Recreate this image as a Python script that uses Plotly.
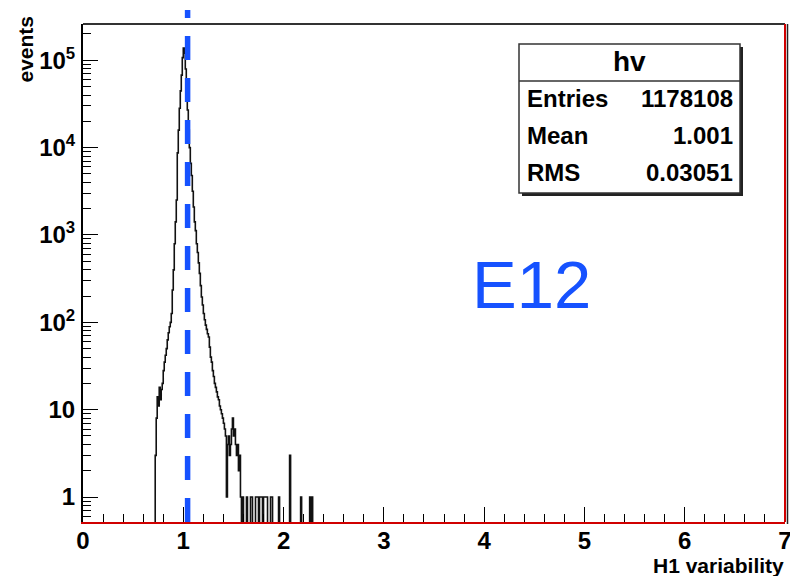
import numpy as np
import plotly.graph_objects as go

# ---------------- data ----------------
bin_width = 0.01
first_edge = 0.70          # left edge of the first listed bin
counts = [
    0, 0, 3, 8, 14, 11, 18, 13, 17, 20,                     # 0.70 - 0.79
    28, 35, 42, 50, 63, 76, 89, 100, 126, 234,              # 0.80 - 0.89
    398, 794, 1413, 2512, 8710, 15849, 28184, 44668, 67608, 107152,   # 0.90 - 0.99
    138038, 120226, 79433, 44668, 26915, 15849, 10000, 6607, 4786, 3162,  # 1.00 - 1.09
    2089, 1413, 1122, 794, 631, 479, 363, 263, 195, 158,    # 1.10 - 1.19
    126, 107, 93, 83, 74, 68, 52, 40, 35, 28,               # 1.20 - 1.29
    24, 20, 18, 16, 14, 13, 11, 10, 9, 8,                   # 1.30 - 1.39
    7, 6, 5, 1, 4, 5, 3, 4, 6, 8,                           # 1.40 - 1.49
    5, 6, 4, 3, 4, 2, 3, 1, 0, 1,                           # 1.50 - 1.59
    0, 0, 0, 1, 0, 0, 0, 1, 1, 0,                           # 1.60 - 1.69
    0, 0, 1, 1, 1, 0, 1, 1, 1, 0,                           # 1.70 - 1.79
    1, 1, 1, 1, 0, 0, 0, 1, 1, 0,                           # 1.80 - 1.89
    0, 0, 0, 0, 0, 1, 0, 0, 0, 0,                           # 1.90 - 1.99
    0, 0, 0, 0, 0, 0, 3, 0, 0, 0,                           # 2.00 - 2.09
    0, 0, 0, 0, 0, 0, 0, 1, 0, 0,                           # 2.10 - 2.19
    0, 0, 0, 0, 0, 0, 1, 0, 1, 0, 0,                        # 2.20 - 2.30
]
hist_name = "hv"
stats_labels = ["Entries", "Mean", "RMS"]
stats_values = ["1178108", "1.001", "0.03051"]
marker_x = 1.043
marker_label = "E12"
x_title = "H1 variability"
y_title = "events"
x_range = [0, 7]
y_min, y_max = 0.518, 2.6e5
y_major = [1, 10, 100, 1e3, 1e4, 1e5]
y_major_text = ["1", "10", "10<sup>2</sup>", "10<sup>3</sup>", "10<sup>4</sup>", "10<sup>5</sup>"]

# ---------------- build step line ----------------
n = len(counts)
edges = first_edge + bin_width * np.arange(n + 1)
cnt = np.array(counts, dtype=float)
floor_val = 1e-3                     # empty bins fall below the frame (log axis)
yv = np.where(cnt > 0, cnt, floor_val)
xs = np.concatenate([[0.0], edges])
ys = np.concatenate([[floor_val], yv, [floor_val]])

# page body has an 8px margin: the figure starts at (8, 8) in the window
OFF = 8
W, H = 798 - OFF, 576 - OFF
L, R, T, B = 83 - OFF, 13, 24 - OFF, 54
PW, PH = W - L - R, H - T - B


def px(x):          # window pixel x -> paper x
    return (x - OFF - L) / PW


def py(y):          # window pixel y -> paper y
    return (OFF + H - B - y) / PH


FONT = "Liberation Sans, Arial, Helvetica, sans-serif"
BLUE = "#1652ff"

fig = go.Figure()
fig.add_trace(go.Scatter(
    x=xs, y=ys, mode="lines", line=dict(shape="hv", color="#111111", width=1.6),
    hoverinfo="skip", showlegend=False))

minor_y = []
for d in [0.1, 1, 10, 100, 1000, 10000, 100000]:
    for k in range(2, 10):
        v = k * d
        if y_min <= v <= y_max:
            minor_y.append(v)

fig.update_layout(
    template="none",
    width=W, height=H,
    margin=dict(l=L, r=R, t=T, b=B, autoexpand=False),
    paper_bgcolor="white", plot_bgcolor="white",
    font=dict(family=FONT, color="black"),
    xaxis=dict(
        range=x_range, showgrid=False, zeroline=False, automargin=False,
        showline=True, linecolor="#d00000", linewidth=2,
        ticks="inside", ticklen=15, tickwidth=1, tickcolor="black",
        dtick=1, tick0=0,
        tickfont=dict(family=FONT, size=24, weight="bold"),
        ticklabelstandoff=-4,
        minor=dict(ticks="inside", ticklen=8, dtick=0.2, tick0=0, tickcolor="black", showgrid=False),
    ),
    yaxis=dict(
        type="log", range=[np.log10(y_min), np.log10(y_max)],
        showgrid=False, zeroline=False, automargin=False,
        showline=True, linecolor="black", linewidth=2,
        ticks="inside", ticklen=15, tickwidth=1, tickcolor="black",
        tickmode="array", tickvals=y_major, ticktext=y_major_text,
        tickfont=dict(family=FONT, size=24, weight="bold"),
        ticklabelstandoff=1,
        minor=dict(ticks="inside", ticklen=8, tickmode="array", tickvals=minor_y,
                   tickcolor="black", showgrid=False),
    ),
)

shapes = []
# frame: top and right borders
shapes.append(dict(type="line", xref="paper", yref="paper", x0=0, x1=1, y0=1, y1=1,
                   line=dict(color="#333333", width=2)))
shapes.append(dict(type="line", xref="paper", yref="paper", x0=1 + 2.5 / PW, x1=1 + 2.5 / PW,
                   y0=-2 / PH, y1=1, line=dict(color="#222222", width=1.5)))
shapes.append(dict(type="line", xref="paper", yref="paper", x0=1, x1=1, y0=0, y1=1,
                   line=dict(color="#d00000", width=2)))
# dashed marker line
shapes.append(dict(type="line", xref="x", yref="paper", x0=marker_x, x1=marker_x,
                   y0=0, y1=py(10), layer="above",
                   line=dict(color=BLUE, width=5.5, dash="24px,18px")))
# stats box (shadow, box, header separator)
bx0, bx1, by0, by1 = 519, 740, 44, 193
shapes.append(dict(type="rect", xref="paper", yref="paper",
                   x0=px(bx0 + 3), x1=px(bx1 + 3), y0=py(by1 + 3), y1=py(by0 + 3),
                   line=dict(width=0), fillcolor="#222222"))
shapes.append(dict(type="rect", xref="paper", yref="paper",
                   x0=px(bx0), x1=px(bx1), y0=py(by1), y1=py(by0),
                   line=dict(color="#333333", width=1.5), fillcolor="white"))
shapes.append(dict(type="line", xref="paper", yref="paper",
                   x0=px(bx0), x1=px(bx1), y0=py(81), y1=py(81),
                   line=dict(color="#333333", width=1.5)))
fig.update_layout(shapes=shapes)

ann = []
ann.append(dict(text=hist_name, x=px((bx0 + bx1) / 2), y=py(62), xref="paper", yref="paper",
                showarrow=False, xanchor="center", yanchor="middle",
                font=dict(family=FONT, size=28, weight="bold")))
for lab, val, yy in zip(stats_labels, stats_values, [99, 135, 173]):
    ann.append(dict(text=lab, x=px(525), y=py(yy), xref="paper", yref="paper",
                    showarrow=False, xanchor="left", yanchor="middle",
                    font=dict(family=FONT, size=24, weight="bold")))
    ann.append(dict(text=val, x=px(735), y=py(yy), xref="paper", yref="paper",
                    showarrow=False, xanchor="right", yanchor="middle",
                    font=dict(family=FONT, size=24, weight="bold")))
ann.append(dict(text=marker_label, x=px(531), y=py(284), xref="paper", yref="paper",
                showarrow=False, xanchor="center", yanchor="middle",
                font=dict(family=FONT, size=67, color=BLUE)))
ann.append(dict(text=x_title, x=px(786), y=py(565), xref="paper", yref="paper",
                showarrow=False, xanchor="right", yanchor="middle",
                font=dict(family=FONT, size=21, weight="bold")))
ann.append(dict(text=y_title, x=px(25), y=py(14), xref="paper", yref="paper",
                showarrow=False, xanchor="center", yanchor="top", textangle=-90,
                font=dict(family=FONT, size=21, weight="bold")))
fig.update_layout(annotations=ann)

fig.write_html("out.html")
